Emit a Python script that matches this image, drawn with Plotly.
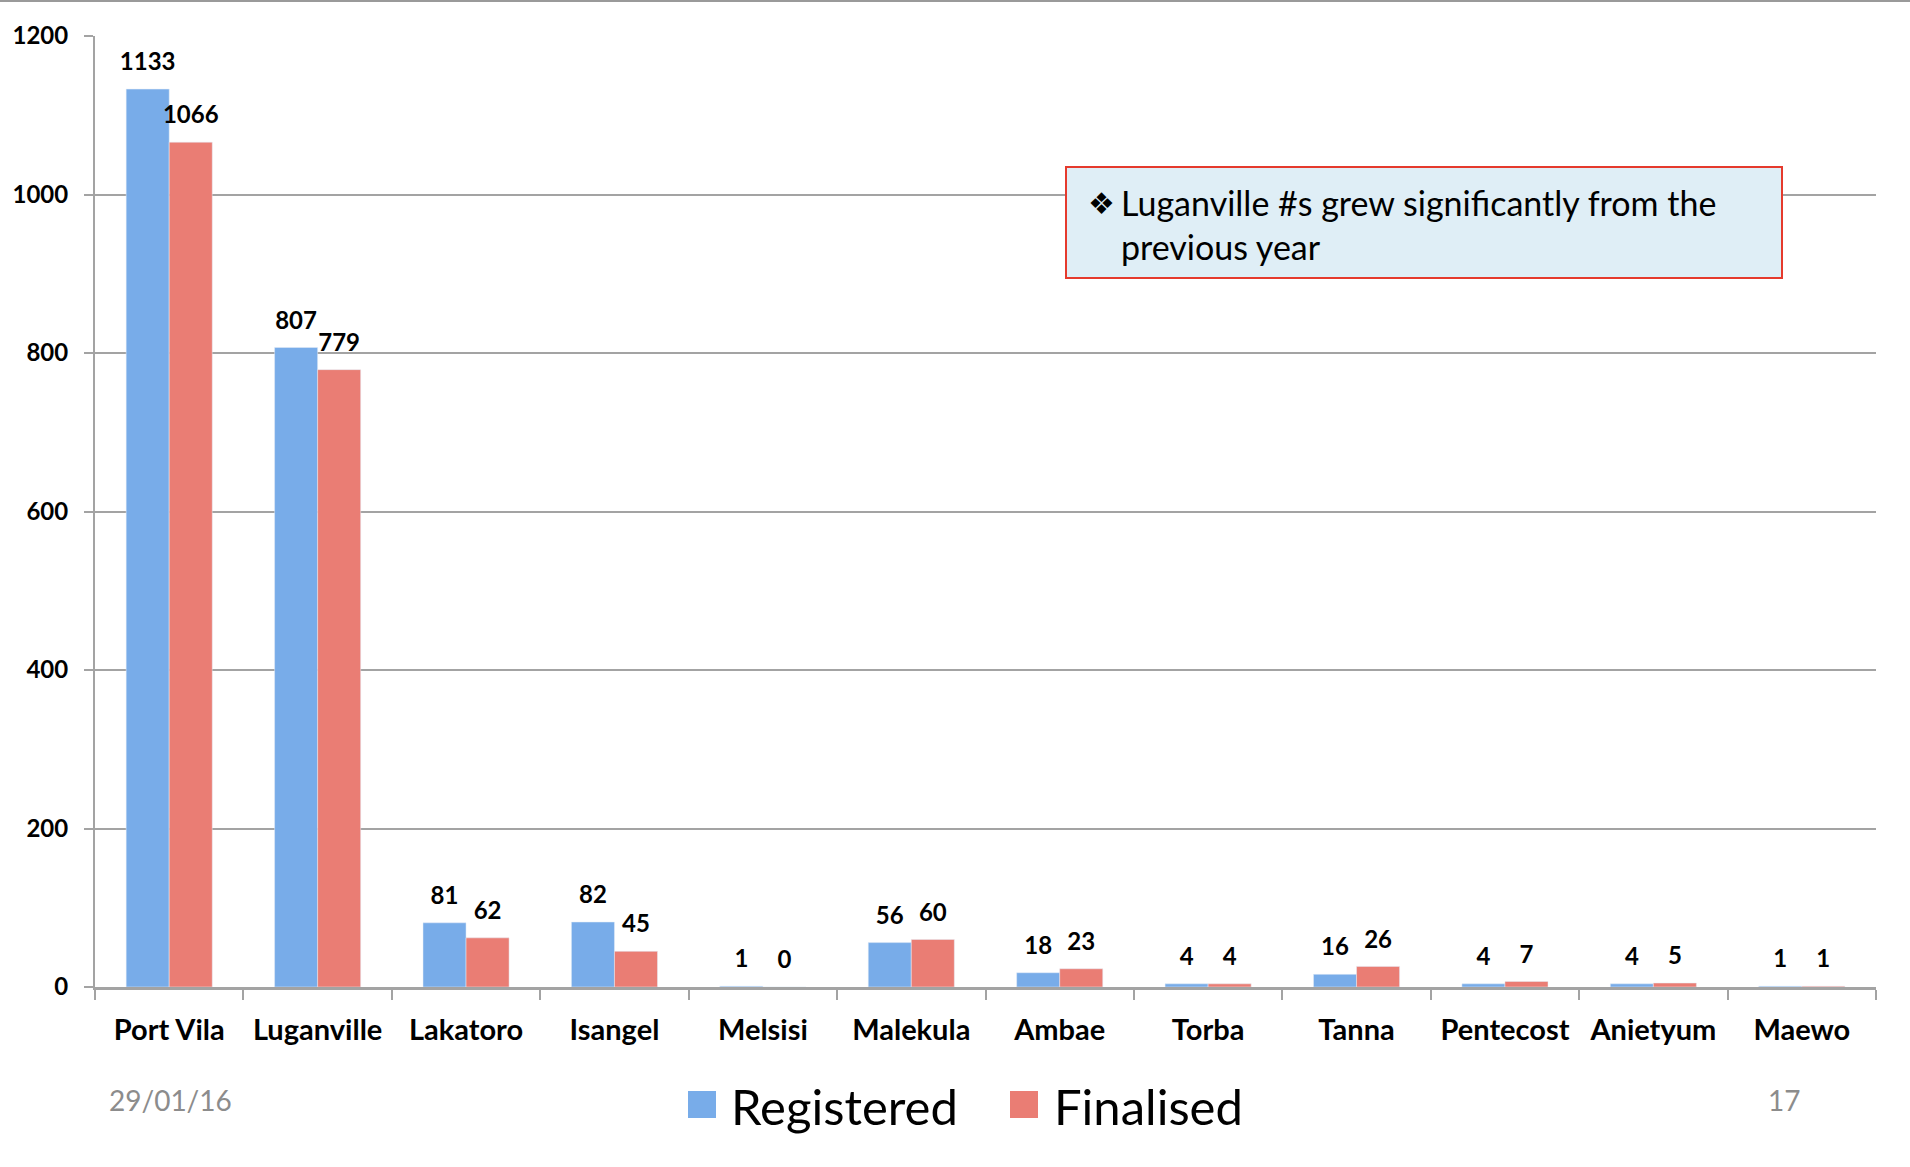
import plotly.graph_objects as go

categories = ["Port Vila", "Luganville", "Lakatoro", "Isangel", "Melsisi", "Malekula",
              "Ambae", "Torba", "Tanna", "Pentecost", "Anietyum", "Maewo"]
registered = [1133, 807, 81, 82, 1, 56, 18, 4, 16, 4, 4, 1]
finalised = [1066, 779, 62, 45, 0, 60, 23, 4, 26, 7, 5, 1]
y_ticks = [0, 200, 400, 600, 800, 1000, 1200]

BLUE = "#78ace9"
RED = "#ea7d74"
GRID = "#a3a3a3"
W, H = 1910, 1167
ML, MR, MT, MB = 95, 34, 36, 180
PW, PH = W - ML - MR, H - MT - MB


def px(x):
    return (x - ML) / PW


def py(y):
    return (H - MB - y) / PH


fig = go.Figure()
fig.add_trace(go.Bar(x=categories, y=registered, name="Registered", marker_color=BLUE,
                     offsetgroup="r", showlegend=False, hoverinfo="x+y"))
fig.add_trace(go.Bar(x=categories, y=finalised, name="Finalised", marker_color=RED,
                     offsetgroup="f", showlegend=False, hoverinfo="x+y"))

lbl_font = dict(family="Lato", size=24, color="black", weight="bold")
for vals, grp in ((registered, "r"), (finalised, "f")):
    fig.add_trace(go.Scatter(x=categories, y=vals, mode="markers+text", offsetgroup=grp,
                             text=[str(v) for v in vals], textposition="top center",
                             textfont=lbl_font, marker=dict(size=19, opacity=0),
                             showlegend=False, hoverinfo="skip", cliponaxis=False))

shapes = [
    # slide top border
    dict(type="line", xref="paper", yref="paper", x0=px(0), x1=px(W), y0=py(1), y1=py(1),
         line=dict(color="#9a9a9a", width=2)),
    # callout box
    dict(type="rect", xref="paper", yref="paper", x0=px(1066), x1=px(1782), y0=py(278), y1=py(167),
         fillcolor="#dfeef6", line=dict(color="#e53a2d", width=2), layer="above"),
    # legend squares
    dict(type="rect", xref="paper", yref="paper", x0=px(688), x1=px(716), y0=py(1118), y1=py(1091),
         fillcolor=BLUE, line=dict(width=0)),
    dict(type="rect", xref="paper", yref="paper", x0=px(1010), x1=px(1038), y0=py(1118), y1=py(1091),
         fillcolor=RED, line=dict(width=0)),
]

annotations = [
    dict(text="❖", xref="paper", yref="paper", x=px(1086), y=py(203), xanchor="left", yanchor="middle",
         showarrow=False, font=dict(family="DejaVu Sans", size=30, color="black")),
    dict(text="Luganville #s grew significantly from the<br>previous year", xref="paper", yref="paper",
         x=px(1119), y=py(224), xanchor="left", yanchor="middle", align="left", showarrow=False,
         font=dict(family="Lato", size=34, color="black")),
    dict(text="Registered", xref="paper", yref="paper", x=px(729), y=py(1106), xanchor="left",
         yanchor="middle", showarrow=False, font=dict(family="Lato", size=49, color="black")),
    dict(text="Finalised", xref="paper", yref="paper", x=px(1052), y=py(1106), xanchor="left",
         yanchor="middle", showarrow=False, font=dict(family="Lato", size=49, color="black")),
    dict(text="29/01/16", xref="paper", yref="paper", x=px(170), y=py(1100), xanchor="center",
         yanchor="middle", showarrow=False, font=dict(family="Lato", size=28, color="#8c8c8c")),
    dict(text="17", xref="paper", yref="paper", x=px(1784), y=py(1100), xanchor="center",
         yanchor="middle", showarrow=False, font=dict(family="Lato", size=28, color="#8c8c8c")),
]

fig.update_layout(
    width=W, height=H,
    margin=dict(l=ML, r=MR, t=MT, b=MB, pad=0),
    paper_bgcolor="white", plot_bgcolor="white",
    barmode="group", bargap=0.42, bargroupgap=0,
    scattermode="group", scattergap=0.42,
    showlegend=False,
    shapes=shapes, annotations=annotations,
    font=dict(family="Lato", color="black"),
    xaxis=dict(type="category", showline=True, linecolor=GRID, linewidth=3, ticks="outside",
               tickson="boundaries", ticklen=10, tickwidth=2, tickcolor=GRID, showgrid=False,
               tickfont=dict(family="Lato", size=29, color="black", weight="bold"),
               ticklabelstandoff=15),
    yaxis=dict(range=[0, 1200], tickvals=y_ticks, showgrid=True, gridcolor=GRID, gridwidth=2,
               showline=True, linecolor=GRID, linewidth=2, ticks="outside", ticklen=9, tickwidth=2,
               tickcolor=GRID, zeroline=False,
               tickfont=dict(family="Lato", size=24, color="black", weight="bold"),
               ticklabelstandoff=11),
)

fig.write_html("out.html", config={"displayModeBar": False},
               post_script="document.body.style.margin='0';")
